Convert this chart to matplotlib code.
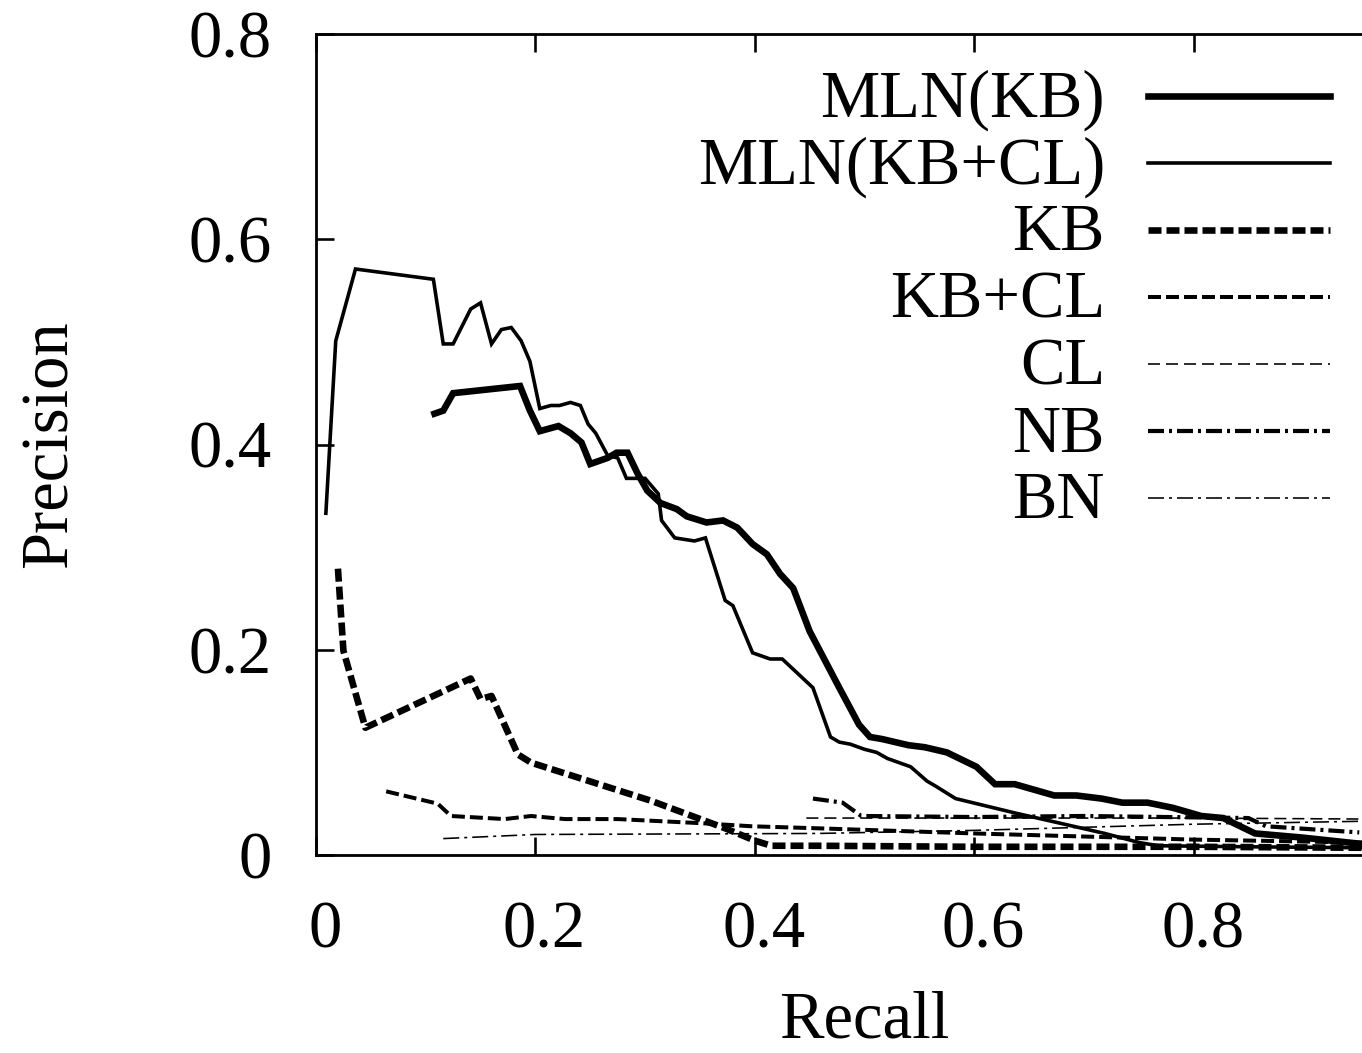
import matplotlib
matplotlib.use('Agg')
import matplotlib.pyplot as plt
from matplotlib.lines import Line2D
from matplotlib.transforms import ScaledTranslation

# precision / recall curves
mln_kb_r = [0.108, 0.116, 0.125, 0.186, 0.195, 0.204, 0.221, 0.232, 0.242, 0.250,
            0.266, 0.274, 0.284, 0.293, 0.302, 0.314, 0.329, 0.338, 0.356, 0.371,
            0.384, 0.398, 0.411, 0.423, 0.435, 0.450, 0.477, 0.495, 0.505, 0.516,
            0.540, 0.555, 0.575, 0.602, 0.619, 0.637, 0.673, 0.693, 0.716, 0.735,
            0.758, 0.781, 0.807, 0.827, 0.856, 0.899, 0.960]
mln_kb_p = [0.430, 0.433, 0.450, 0.457, 0.433, 0.413, 0.418, 0.411, 0.402, 0.381,
            0.387, 0.392, 0.392, 0.372, 0.355, 0.343, 0.337, 0.330, 0.324, 0.326,
            0.319, 0.303, 0.293, 0.274, 0.260, 0.218, 0.163, 0.127, 0.115, 0.113,
            0.107, 0.105, 0.100, 0.086, 0.069, 0.069, 0.058, 0.058, 0.055, 0.051,
            0.051, 0.046, 0.038, 0.036, 0.021, 0.017, 0.010]

mln_kbcl_r = [0.009, 0.018, 0.036, 0.107, 0.116, 0.125, 0.141, 0.150, 0.160, 0.169,
              0.178, 0.187, 0.195, 0.204, 0.214, 0.222, 0.232, 0.241, 0.248, 0.255,
              0.266, 0.275, 0.283, 0.300, 0.312, 0.315, 0.327, 0.345, 0.355, 0.373,
              0.380, 0.398, 0.414, 0.425, 0.441, 0.453, 0.469, 0.477, 0.487, 0.500,
              0.511, 0.521, 0.542, 0.557, 0.565, 0.583, 0.637, 0.670, 0.719, 0.751,
              0.768, 0.850, 0.960]
mln_kbcl_p = [0.333, 0.501, 0.571, 0.561, 0.498, 0.498, 0.532, 0.538, 0.498, 0.512,
              0.514, 0.501, 0.481, 0.435, 0.438, 0.438, 0.441, 0.438, 0.420, 0.411,
              0.389, 0.387, 0.367, 0.367, 0.352, 0.326, 0.309, 0.306, 0.309, 0.248,
              0.243, 0.197, 0.191, 0.191, 0.175, 0.163, 0.115, 0.110, 0.108, 0.103,
              0.100, 0.094, 0.086, 0.072, 0.067, 0.055, 0.041, 0.033, 0.021, 0.012,
              0.009, 0.008, 0.007]

kb_r = [0.020, 0.025, 0.045, 0.141, 0.150, 0.160, 0.184, 0.196, 0.305, 0.373,
        0.400, 0.415, 0.458, 0.600, 0.800, 0.960]
kb_p = [0.279, 0.199, 0.124, 0.172, 0.152, 0.155, 0.098, 0.090, 0.053, 0.026,
        0.014, 0.009, 0.009, 0.008, 0.008, 0.007]

kbcl_r = [0.064, 0.111, 0.123, 0.172, 0.196, 0.227, 0.275, 0.351, 0.397, 0.458,
          0.600, 0.800, 0.960]
kbcl_p = [0.062, 0.050, 0.038, 0.035, 0.038, 0.035, 0.035, 0.031, 0.028, 0.026,
          0.021, 0.015, 0.012]

cl_r = [0.447, 0.600, 0.800, 0.960]
cl_p = [0.036, 0.036, 0.036, 0.035]

nb_r = [0.453, 0.480, 0.497, 0.600, 0.700, 0.850, 0.866, 0.951]
nb_p = [0.055, 0.051, 0.038, 0.037, 0.038, 0.036, 0.028, 0.022]

bn_r = [0.116, 0.200, 0.458, 0.600, 0.800, 0.960]
bn_p = [0.016, 0.020, 0.021, 0.024, 0.030, 0.033]

labels = ['MLN(KB)', 'MLN(KB+CL)', 'KB', 'KB+CL', 'CL', 'NB', 'BN']
x_ticks = [0, 0.2, 0.4, 0.6, 0.8]
y_ticks = [0, 0.2, 0.4, 0.6, 0.8]
tick_labels = ['0', '0.2', '0.4', '0.6', '0.8']

PX = 72 / 100.0  # points per pixel at dpi 100


def main():
    plt.rcParams['font.family'] = ['Liberation Serif', 'DejaVu Serif']
    plt.rcParams['lines.scale_dashes'] = False

    fig = plt.figure(figsize=(13.62, 10.53), dpi=100)
    W, H = 1362.0, 1053.0
    # axes run past the right edge of the picture, like the cropped original
    ax = fig.add_axes([316 / W, (H - 855) / H, 1097 / W, 821 / H])

    styles = [
        dict(lw=6.6 * PX, ls='-'),
        dict(lw=3.6 * PX, ls='-'),
        dict(lw=6.6 * PX, ls=(0, (13 * PX, 5 * PX))),
        dict(lw=4.0 * PX, ls=(0, (13 * PX, 5 * PX))),
        dict(lw=1.6 * PX, ls=(0, (12 * PX, 6 * PX))),
        dict(lw=4.2 * PX, ls=(0, (16 * PX, 5 * PX, 3 * PX, 5 * PX))),
        dict(lw=1.6 * PX, ls=(0, (16 * PX, 5 * PX, 3 * PX, 5 * PX))),
    ]
    series = [(mln_kb_r, mln_kb_p), (mln_kbcl_r, mln_kbcl_p), (kb_r, kb_p),
              (kbcl_r, kbcl_p), (cl_r, cl_p), (nb_r, nb_p), (bn_r, bn_p)]

    for (r, p), st in zip(series, styles):
        ax.plot(r, p, color='black', solid_joinstyle='miter', **st)

    ax.set_xlim(0, 1)
    ax.set_ylim(0, 0.8)
    ax.set_xticks(x_ticks)
    ax.set_xticklabels(tick_labels)
    ax.set_yticks(y_ticks)
    ax.set_yticklabels(tick_labels)
    ax.tick_params(direction='in', length=18 * PX, width=2.6 * PX,
                   top=True, right=True, labelsize=48)
    ax.tick_params(axis='x', pad=46 * PX)
    ax.tick_params(axis='y', pad=44 * PX)
    for sp in ax.spines.values():
        sp.set_linewidth(2.8 * PX)

    # gnuplot puts the x labels a little right of their ticks
    shift = ScaledTranslation(9 / 100.0, 0, fig.dpi_scale_trans)
    for lab in ax.get_xticklabels():
        lab.set_transform(lab.get_transform() + shift)

    ax.set_xlabel('Recall', fontsize=48)
    ax.xaxis.set_label_coords(0.5, (855 - 990) / 821.0)
    ax.set_ylabel('Precision', fontsize=48)
    ax.yaxis.set_label_coords((81 - 316) / 1097.0, 0.5)

    # legend: right aligned text with the line sample to its right
    for i, (lab, st) in enumerate(zip(labels, styles)):
        yc = 93 + i * 67.0
        fig.text(1105 / W, 1 - yc / H, lab, fontsize=48, ha='right',
                 va='center_baseline')
        fig.add_artist(Line2D([1148 / W, 1330 / W], [1 - (yc + 3) / H] * 2,
                              transform=fig.transFigure, color='black', **st))

    fig.savefig('out.png', dpi=100)


if __name__ == '__main__':
    main()
